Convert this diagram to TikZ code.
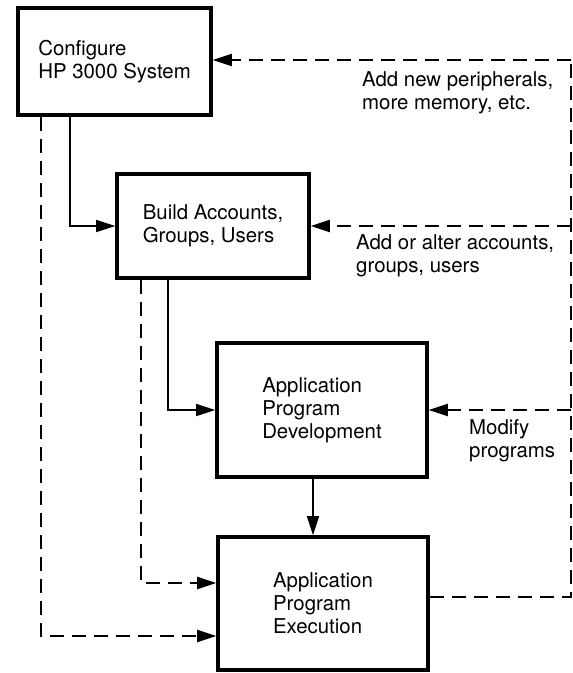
\documentclass[tikz,border=0pt]{standalone}
\usepackage{fontspec}
\setmainfont{TeX Gyre Heros}
\usetikzlibrary{arrows.meta}
\begin{document}
\begin{tikzpicture}[x=1pt,y=-1pt,
  box/.style={draw,line width=3.6pt,inner sep=0pt,align=left,font=\fontsize{20.4}{23}\selectfont},
  lbl/.style={inner sep=0pt,anchor=west,align=left,font=\fontsize{20.4}{23}\selectfont},
  conn/.style={line width=1.7pt},
  dline/.style={line width=2pt,dash pattern=on 14pt off 8pt},
  tip/.style={-{Triangle[length=19pt,width=12pt]}}]
\useasboundingbox (0,0) rectangle (573,673);
\node[box,minimum width=193pt,minimum height=107pt] (b1) at (114.5,61.5) {Configure\\HP 3000 System};
\node[box,minimum width=192pt,minimum height=104pt] (b2) at (213,226) {Build Accounts,\\Groups, Users};
\node[box,minimum width=210pt,minimum height=134pt] (b3) at (322,410) {Application\\Program\\Development};
\node[box,minimum width=210pt,minimum height=133pt] (b4) at (323,603.5) {Application\\Program\\Execution};
\node[lbl] (l1) at (362,93) {Add new peripherals,\\more memory, etc.};
\node[lbl] (l2) at (356,255.5) {Add or alter accounts,\\groups, users};
\node[lbl] (l3) at (469,440.5) {Modify\\programs};
\coordinate (r0) at (571,597);
\coordinate (r1) at (571,60);
\coordinate (r2) at (571,226);
\coordinate (r3) at (571,410);
% solid flow
\draw[conn,tip] ([xshift=54pt]b1.south west) |- (b2.west);
\draw[conn,tip] ([xshift=53pt]b2.south west) |- (b3.west);
\draw[conn,tip] ([xshift=-9pt]b3.south) -- ([xshift=-10pt]b4.north);
% dashed flow
\draw[dline,tip] ([xshift=25pt]b1.south west) |- ([yshift=-32.5pt]b4.west);
\draw[dline,tip] ([xshift=26pt]b2.south west) |- ([yshift=20.5pt]b4.west);
\draw[dline] ([yshift=6.5pt]b4.east) -- (r0) -- (r1);
\draw[dline,tip] (r1) -- (b1.east |- r1);
\draw[dline,tip] (r2) -- (b2.east);
\draw[dline,tip] (r3) -- (b3.east);
\end{tikzpicture}
\end{document}
